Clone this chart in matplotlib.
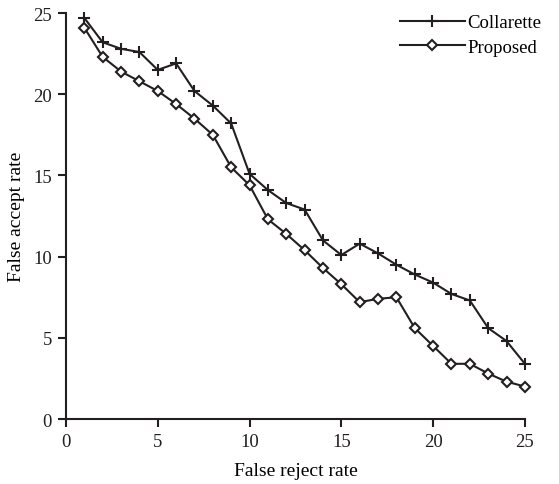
import numpy as np
import matplotlib.pyplot as plt

### DATA
### ------------------
frr = np.arange(1, 26)
collarette = [24.7, 23.2, 22.8, 22.6, 21.5, 21.9, 20.2, 19.3, 18.2, 15.1,
              14.1, 13.3, 12.9, 11.0, 10.1, 10.8, 10.2, 9.5, 8.9, 8.4,
              7.7, 7.3, 5.6, 4.8, 3.4]
proposed = [24.1, 22.3, 21.4, 20.8, 20.2, 19.4, 18.5, 17.5, 15.5, 14.4,
            12.3, 11.4, 10.4, 9.3, 8.3, 7.2, 7.4, 7.5, 5.6, 4.5,
            3.4, 3.4, 2.8, 2.3, 2.0]
ticks = [0, 5, 10, 15, 20, 25]

### PLOT
### ------------------
plt.rcParams['font.family'] = ['Liberation Serif', 'DejaVu Serif']
plt.rcParams['font.size'] = 14

fig = plt.figure(figsize=(5.59, 4.85), dpi=100)
ax = fig.add_axes([0.118, 0.134, 0.821, 0.837])

ax.plot(frr, collarette, color='#231f20', lw=1.5, marker='+', ms=9, mew=1.5,
        label='Collarette', clip_on=False)
ax.plot(frr, proposed, color='#231f20', lw=1.5, marker='D', ms=5, mew=1.5,
        mfc='white', label='Proposed', clip_on=False)

ax.set_xlim(0, 25)
ax.set_ylim(0, 25)
ax.set_xticks(ticks)
ax.set_yticks(ticks)
ax.set_xlabel('False reject rate', fontsize=14, labelpad=9)
ax.set_ylabel('False accept rate', fontsize=14, labelpad=6)

for side in ['top', 'right']:
    ax.spines[side].set_visible(False)
for side in ['left', 'bottom']:
    ax.spines[side].set_linewidth(1.5)
    ax.spines[side].set_color('#231f20')
ax.tick_params(direction='out', width=1.5, length=6, pad=4, colors='#231f20',
               labelsize=13.5)

ax.legend(loc='upper right', bbox_to_anchor=(1.06, 1.025), frameon=False,
          fontsize=13.5, handlelength=3.5, handletextpad=0.1,
          labelspacing=0.4, borderaxespad=0.2)

fig.savefig('out.png', dpi=100)
